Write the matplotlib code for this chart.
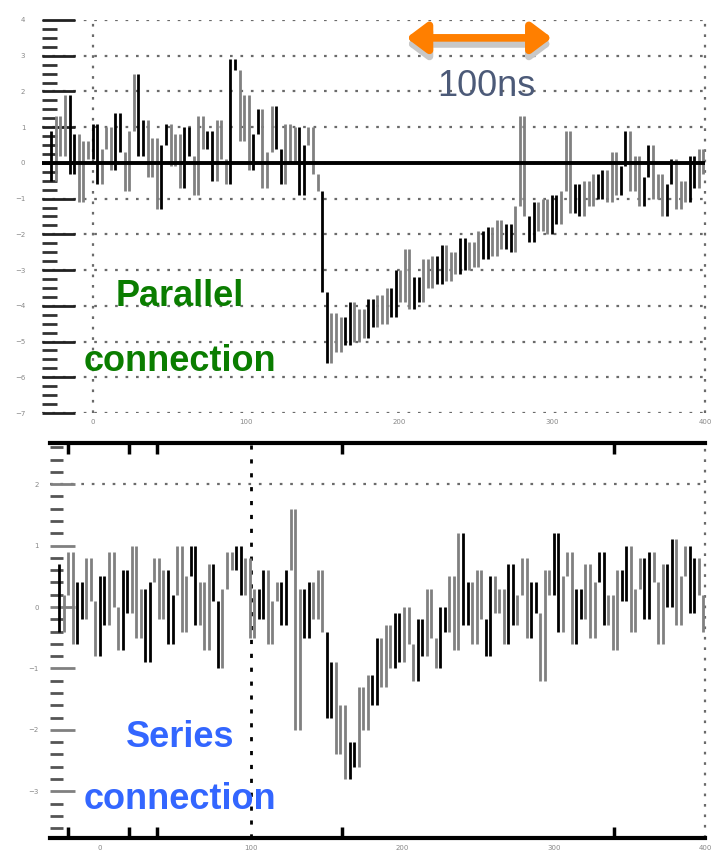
import numpy as np
import matplotlib.pyplot as plt

# time base (ns) and traces
t_top = np.arange(-30, 400, 3)
v_top = [0.9, -0.5, 1.3, 0.2, 1.9, -0.3, 0.8, -1.1, 0.6, 0.1,
         1.1, -0.6, 0.4, 1.0, -0.2, 1.4, 0.3, -0.8, 0.9, 2.5,
         0.2, 1.2, -0.4, 0.7, -1.3, 0.5, 1.1, -0.1, 0.8, -0.7,
         1.0, 0.2, -0.9, 1.3, 0.4, 0.9, -0.5, 1.2, 0.1, -0.6,
         2.9, 2.6, 0.6, 1.9, -0.2, 0.8, 1.5, -0.7, 0.3, 1.6,
         0.4, -0.6, 1.1, 0.0, 1.0, -0.9, 0.5, 1.0, -0.3, -0.8,
         -3.6, -5.6, -4.2, -5.3, -4.3, -5.1, -3.9, -5.0, -4.1, -4.9,
         -3.8, -4.6, -3.7, -4.5, -3.5, -4.3, -3.0, -3.9, -2.4, -4.1,
         -3.2, -3.9, -2.7, -3.5, -2.6, -3.4, -2.3, -3.3, -2.5, -3.1,
         -2.1, -3.0, -2.2, -2.9, -1.9, -2.7, -1.8, -2.6, -1.6, -2.4,
         -1.7, -2.5, -1.2, 1.3, -1.5, -2.2, -1.1, -1.9, -1.0, -2.0,
         -0.9, -1.7, -0.8, 0.9, -1.4, -0.6, -1.5, -0.5, -1.2, -0.3,
         -1.0, -0.2, -1.1, 0.3, -0.9, -0.1, 0.9, -0.8, 0.2, -1.2,
         -0.4, 0.5, -1.0, -0.3, -1.5, -0.6, 0.1, -1.3, -0.5, -1.1,
         0.2, -0.7, 0.4, -0.3]

t_bot = np.arange(-30, 400, 3)
v_bot = [0.7, -0.4, 0.2, 0.9, -0.6, 0.4, -0.2, 0.8, 0.1, -0.8,
         0.5, -0.3, 0.9, 0.0, -0.7, 0.6, -0.1, 1.0, -0.5, 0.3,
         -0.9, 0.4, 0.8, -0.2, 0.6, -0.6, 0.2, 1.0, -0.4, 0.5,
         1.0, -0.3, 0.4, -0.7, 0.7, 0.1, -1.0, 0.3, 0.9, 0.6,
         1.0, 0.2, 0.8, -0.5, 0.3, -0.2, 0.6, -0.6, 0.1, 0.4,
         -0.3, 0.6, 1.6, -2.0, 0.3, -0.5, 0.4, -0.2, 0.6, -0.4,
         -1.8, -0.9, -2.4, -1.6, -2.8, -2.2, -2.6, -1.3, -2.0, -1.1,
         -1.6, -0.5, -1.3, -0.3, -1.0, -0.1, -0.9, 0.0, -0.6, -1.2,
         -0.2, -0.8, 0.3, -0.5, -1.0, 0.0, -0.4, 0.5, -0.7, 1.2,
         -0.3, 0.4, -0.6, 0.6, -0.2, -0.8, 0.5, -0.1, 0.3, -0.6,
         0.7, -0.3, 0.2, 0.8, -0.5, 0.4, -0.1, -1.2, 0.6, 0.2,
         1.2, -0.4, 0.5, 0.9, -0.6, 0.3, -0.2, 0.7, -0.5, 0.4,
         0.9, -0.3, 0.2, -0.7, 0.6, 0.1, 1.0, -0.4, 0.3, 0.8,
         -0.2, 0.9, 0.4, -0.6, 0.7, 0.0, 1.1, -0.3, 0.5, 1.0,
         -0.1, 0.8, 0.2, -0.4]

x_ticks = [0, 100, 200, 300, 400]
x_labels = ['0', '100', '200', '300', '400']
top_yticks = [4, 3, 2, 1, 0, -1, -2, -3, -4, -5, -6, -7]
bot_yticks = [2, 1, 0, -1, -2, -3]

label_font = ['Liberation Sans', 'DejaVu Sans']
grid_style = dict(color='#6a6a6a', linestyle=(0, (1.2, 3.5)), lw=1.6)


def draw_trace(ax, t, v):
    """Each sample step drawn as a vertical stroke, gray and black in turns."""
    v = np.asarray(v, dtype=float)
    idx = np.arange(1, len(v))
    colors = np.where(idx % 5 < 2, 'black', '#808080')
    ax.vlines(t[1:], np.minimum(v[:-1], v[1:]), np.maximum(v[:-1], v[1:]),
              colors=list(colors), lw=2.0, zorder=2, clip_on=False)


fig = plt.figure(figsize=(7.18, 8.58), dpi=100)

# ---- top panel: parallel connection
ax1 = fig.add_axes([42 / 718, 1 - 413 / 858, 663 / 718, 393 / 858])
ax1.set_xlim(-33, 400)
ax1.set_ylim(-7, 4)
for s in ax1.spines.values():
    s.set_visible(False)
for y in top_yticks:
    ax1.axhline(y, zorder=1, **grid_style)
ax1.axvline(0, zorder=1, **grid_style)
ax1.axvline(400, zorder=1, clip_on=False, **grid_style)
draw_trace(ax1, t_top, v_top)
ax1.axhline(0, color='black', lw=2.8, zorder=3)

ax1.set_yticks(top_yticks)
ax1.set_yticks(np.arange(-7, 4.01, 0.25), minor=True)
ax1.tick_params(axis='y', which='major', direction='in', length=24, width=2,
                color='#222222', labelsize=5, labelcolor='#888888', pad=12)
ax1.tick_params(axis='y', which='minor', direction='in', length=11, width=2,
                color='#333333')
ax1.set_xticks(x_ticks)
ax1.set_xticklabels(x_labels)
ax1.tick_params(axis='x', length=0, labelsize=5, labelcolor='#888888', pad=4)

# 100 ns scale bar
ax1.annotate('', xy=(205, 3.33), xytext=(300, 3.33),
             arrowprops=dict(arrowstyle='<|-|>,head_length=0.6,head_width=0.45',
                             color='#c8c8c8', lw=5.5, mutation_scale=20,
                             shrinkA=0, shrinkB=0))
ax1.annotate('', xy=(205, 3.5), xytext=(300, 3.5),
             arrowprops=dict(arrowstyle='<|-|>,head_length=0.6,head_width=0.45',
                             color='#ff7f00', lw=5.5, mutation_scale=20,
                             shrinkA=0, shrinkB=0))
ax1.text(257, 2.15, '100ns', family=label_font, fontsize=26, color='#4c5a78',
         ha='center', va='center')
ax1.text(57, -3.75, 'Parallel', family=label_font, fontsize=26, weight='bold',
         color='#0a7d00', ha='center', va='center')
ax1.text(57, -5.55, 'connection', family=label_font, fontsize=26, weight='bold',
         color='#0a7d00', ha='center', va='center')

# ---- bottom panel: series connection
ax2 = fig.add_axes([50 / 718, 1 - 838 / 858, 655 / 718, 395 / 858])
ax2.set_xlim(-33, 400)
ax2.set_ylim(-3.76, 2.67)
ax2.spines['left'].set_visible(False)
ax2.spines['right'].set_visible(False)
ax2.spines['top'].set_linewidth(3)
ax2.spines['bottom'].set_linewidth(3)
ax2.axhline(2, zorder=1, **grid_style)
ax2.axvline(100, zorder=1, color='black', linestyle=(0, (1.5, 3.5)), lw=2)
ax2.axvline(400, zorder=1, clip_on=False, **grid_style)
draw_trace(ax2, t_bot, v_bot)

ax2.set_yticks(bot_yticks)
ax2.set_yticks(np.arange(-3.6, 2.61, 0.2), minor=True)
ax2.tick_params(axis='y', which='major', direction='in', length=18, width=2,
                color='#808080', labelsize=5, labelcolor='#888888', pad=8)
ax2.tick_params(axis='y', which='minor', direction='in', length=9, width=2,
                color='#555555')
ax2.set_xticks(x_ticks)
ax2.set_xticklabels(x_labels)
ax2.set_xticks([-21, 19, 38, 100, 160, 340], minor=True)
ax2.tick_params(axis='x', which='major', length=0, labelsize=5,
                labelcolor='#888888', pad=5)
ax2.tick_params(axis='x', which='minor', direction='in', length=8, width=2.5,
                color='black', top=True)

ax2.text(53, -2.12, 'Series', family=label_font, fontsize=26, weight='bold',
         color='#3366ff', ha='center', va='center')
ax2.text(53, -3.13, 'connection', family=label_font, fontsize=26, weight='bold',
         color='#3366ff', ha='center', va='center')

fig.savefig('out.png', dpi=100)
